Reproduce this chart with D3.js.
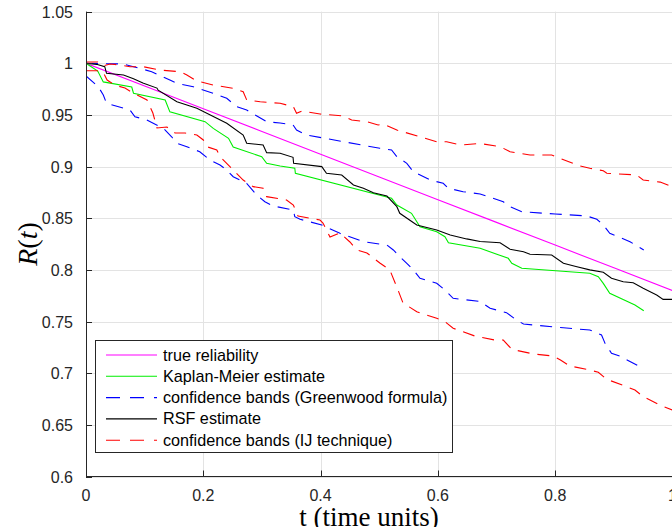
<!DOCTYPE html>
<html>
  <head>
    <meta charset="UTF-8" />
    <title>R(t) estimates</title>
    <script src="https://d3js.org/d3.v7.min.js"></script>
    <style>
      body { margin: 0; background: #fff; }
      .tick-label { font-family: "Liberation Sans", Arial, sans-serif; font-size: 16px; fill: #262626; }
      .legend-text { font-family: "Liberation Sans", Arial, sans-serif; font-size: 16.2px; fill: #000; }
      .grid { stroke: #e3e3e3; stroke-width: 1px; }
      .curve { fill: none; stroke-width: 1.1px; }
    </style>
  </head>
  <body>
    <svg id="chart" width="672" height="527"></svg>

    <script>
      // true reliability
      var trueT = [0, 0.1, 0.2, 0.3, 0.4, 0.5, 0.6, 0.7, 0.8, 0.9, 1.0];
      var trueR = [1.0, 0.978, 0.956, 0.934, 0.912, 0.89, 0.868, 0.846, 0.824, 0.802, 0.78];

      // Kaplan-Meier estimate
      var kmT = [0, 0.02, 0.0295, 0.078, 0.081, 0.135, 0.143, 0.203, 0.217, 0.243, 0.251, 0.2996, 0.308, 0.331, 0.356, 0.357,
        0.521, 0.53, 0.555, 0.5695, 0.598, 0.612, 0.618, 0.672, 0.72, 0.726, 0.743, 0.859, 0.8735, 0.882, 0.893, 0.936, 0.951];
      var kmR = [1.0, 0.9925, 0.982, 0.977, 0.971, 0.9645, 0.953, 0.9435, 0.937, 0.9274, 0.919, 0.9096, 0.9032, 0.9006, 0.8984, 0.8935,
        0.8693, 0.8628, 0.8548, 0.8418, 0.837, 0.8321, 0.8263, 0.8209, 0.8112, 0.8064, 0.8016, 0.7967, 0.7934, 0.787, 0.7773, 0.766, 0.7605];

      // Greenwood confidence bands
      var gwUpT = [0, 0.064, 0.081, 0.112, 0.143, 0.155, 0.183, 0.217, 0.24, 0.257, 0.274, 0.308, 0.331, 0.353, 0.359, 0.376,
        0.439, 0.501, 0.521, 0.53, 0.547, 0.558, 0.587, 0.609, 0.618, 0.643, 0.672, 0.7115, 0.723, 0.743, 0.8, 0.854, 0.871,
        0.882, 0.893, 0.9275, 0.951];
      var gwUpR = [1.0, 0.9993, 0.9967, 0.9919, 0.9838, 0.9806, 0.9773, 0.971, 0.9661, 0.958, 0.9548, 0.9435, 0.9422, 0.9403, 0.9354, 0.9306,
        0.9241, 0.9177, 0.9161, 0.9096, 0.9032, 0.8951, 0.887, 0.8838, 0.879, 0.8757, 0.8735, 0.866, 0.8612, 0.8563, 0.8541, 0.8522, 0.849,
        0.8435, 0.8354, 0.8273, 0.8193];
      var gwLoT = [0, 0.021, 0.0295, 0.035, 0.075, 0.0835, 0.1035, 0.132, 0.146, 0.155, 0.172, 0.194, 0.211, 0.2285, 0.24, 0.251,
        0.274, 0.291, 0.305, 0.319, 0.3535, 0.356, 0.365, 0.402, 0.433, 0.473, 0.513, 0.524, 0.535, 0.547, 0.558, 0.5695, 0.598,
        0.612, 0.626, 0.672, 0.689, 0.717, 0.734, 0.746, 0.814, 0.859, 0.879, 0.885, 0.896, 0.9105, 0.925, 0.942];
      var gwLoR = [0.9877, 0.9773, 0.9693, 0.9613, 0.9548, 0.9483, 0.9451, 0.9371, 0.9289, 0.9226, 0.9193, 0.9144, 0.9064, 0.9016, 0.8967, 0.8902,
        0.8838, 0.8725, 0.866, 0.8619, 0.858, 0.8515, 0.849, 0.8435, 0.8354, 0.8273, 0.8241, 0.8193, 0.8128, 0.8064, 0.8, 0.7919, 0.787,
        0.7805, 0.7725, 0.7694, 0.7628, 0.7586, 0.7515, 0.7476, 0.744, 0.7418, 0.737, 0.7289, 0.7193, 0.7166, 0.7121, 0.707];

      // RSF estimate
      var rsfT = [0, 0.018, 0.032, 0.035, 0.064, 0.081, 0.097, 0.121, 0.123, 0.155, 0.189, 0.223, 0.24, 0.268, 0.274, 0.302, 0.308,
        0.331, 0.353, 0.354, 0.402, 0.41, 0.436, 0.456, 0.473, 0.49, 0.513, 0.53, 0.535, 0.564, 0.598, 0.621, 0.649, 0.672, 0.706,
        0.723, 0.746, 0.757, 0.794, 0.814, 0.837, 0.859, 0.882, 0.896, 0.916, 0.933, 0.95, 0.973, 0.984, 1.0];
      var rsfR = [1.0, 0.999, 0.9967, 0.9903, 0.9887, 0.985, 0.981, 0.976, 0.974, 0.9628, 0.9564, 0.9468, 0.9419, 0.9306, 0.9226, 0.9209, 0.9135,
        0.9129, 0.909, 0.9032, 0.9, 0.8935, 0.8919, 0.8822, 0.879, 0.8747, 0.8715, 0.8612, 0.8548, 0.8435, 0.8386, 0.8338, 0.83, 0.8275, 0.8263,
        0.82, 0.8176, 0.8151, 0.8144, 0.8064, 0.8031, 0.8, 0.7977, 0.7919, 0.7886, 0.7876, 0.7822, 0.7757, 0.7715, 0.7715];

      // IJ technique confidence bands
      var ijUpT = [0, 0.02, 0.029, 0.041, 0.058, 0.075, 0.098, 0.126, 0.16, 0.172, 0.186, 0.194, 0.217, 0.251, 0.268, 0.274, 0.297,
        0.331, 0.3535, 0.359, 0.368, 0.399, 0.439, 0.453, 0.4786, 0.498, 0.507, 0.53, 0.5695, 0.598, 0.615, 0.638, 0.672, 0.706,
        0.723, 0.757, 0.794, 0.808, 0.842, 0.859, 0.882, 0.888, 0.939, 0.95, 0.979, 1.0];
      var ijUpR = [1.0013, 1.0013, 0.9974, 0.9993, 0.9984, 0.9967, 0.9967, 0.9935, 0.9919, 0.9887, 0.9838, 0.9822, 0.979, 0.9758, 0.9725, 0.9645, 0.9628,
        0.9613, 0.958, 0.9516, 0.9538, 0.9509, 0.949, 0.9451, 0.9435, 0.9403, 0.9412, 0.9354, 0.9289, 0.9241, 0.9241, 0.9209, 0.9224, 0.9193,
        0.9144, 0.9112, 0.9112, 0.908, 0.9006, 0.8984, 0.896, 0.8935, 0.8919, 0.887, 0.885, 0.8803];
      var ijLoT = [0, 0.019, 0.029, 0.036, 0.049, 0.0665, 0.08, 0.104, 0.114, 0.121, 0.138, 0.152, 0.169, 0.189, 0.2, 0.206, 0.223,
        0.2285, 0.251, 0.268, 0.285, 0.302, 0.308, 0.342, 0.3535, 0.3615, 0.399, 0.404, 0.416, 0.433, 0.45, 0.462, 0.479, 0.501,
        0.518, 0.53, 0.5405, 0.564, 0.598, 0.612, 0.626, 0.663, 0.697, 0.7115, 0.726, 0.763, 0.797, 0.809, 0.825, 0.859, 0.8735,
        0.888, 0.922, 0.936, 0.95, 0.9816, 1.0];
      var ijLoR = [0.9928, 0.9928, 0.9916, 0.9838, 0.979, 0.976, 0.9713, 0.9645, 0.9519, 0.9374, 0.9383, 0.9325, 0.9325, 0.9306, 0.9258, 0.9193, 0.9161,
        0.9096, 0.8967, 0.887, 0.8806, 0.879, 0.8709, 0.8677, 0.8628, 0.8522, 0.8483, 0.8454, 0.8318, 0.8357, 0.827, 0.8193, 0.8164, 0.8067,
        0.8, 0.7834, 0.768, 0.7595, 0.7531, 0.7499, 0.7435, 0.736, 0.7321, 0.7321, 0.7231, 0.7186, 0.7166, 0.7128, 0.707, 0.7031, 0.7009,
        0.6941, 0.6869, 0.6837, 0.6773, 0.6683, 0.6644];

      var xTicks = [0, 0.2, 0.4, 0.6, 0.8, 1];
      var yTicks = [0.6, 0.65, 0.7, 0.75, 0.8, 0.85, 0.9, 0.95, 1, 1.05];
      var legendLabels = [
        'true reliability',
        'Kaplan-Meier estimate',
        'confidence bands (Greenwood formula)',
        'RSF estimate',
        'confidence bands (IJ technique)'
      ];

      (function () {
        var svg = d3.select('#chart');
        // plot box in pixels (window.top is reserved, so no bare "top")
        var pl = 86, pr = 672.5, pt = 11.65, pb = 476.5;

        var x = d3.scaleLinear().domain([0, 1]).range([pl, pr]);
        var y = d3.scaleLinear().domain([0.6, 1.05]).range([pb, pt]);

        // grid
        svg.append('g').selectAll('line').data(yTicks).enter().append('line')
          .attr('class', 'grid')
          .attr('x1', pl).attr('x2', pr)
          .attr('y1', function (d) { return Math.round(y(d)) + 0.5; })
          .attr('y2', function (d) { return Math.round(y(d)) + 0.5; });
        svg.append('g').selectAll('line').data(xTicks).enter().append('line')
          .attr('class', 'grid')
          .attr('y1', pt).attr('y2', pb)
          .attr('x1', function (d) { return Math.round(x(d)) + 0.5; })
          .attr('x2', function (d) { return Math.round(x(d)) + 0.5; });

        // curves
        svg.append('clipPath').attr('id', 'clip').append('rect')
          .attr('x', pl).attr('y', pt).attr('width', pr - pl).attr('height', pb - pt);

        var line = d3.line()
          .x(function (d) { return x(d[0]); })
          .y(function (d) { return y(d[1]); });

        function pairs(ts, vs) {
          return ts.map(function (t, i) { return [t, vs[i]]; });
        }

        var series = [
          { data: pairs(trueT, trueR), color: '#ff00ff', dash: null },
          { data: pairs(kmT, kmR), color: '#00ee00', dash: null },
          { data: pairs(gwUpT, gwUpR), color: '#0000ff', dash: '12,8' },
          { data: pairs(gwLoT, gwLoR), color: '#0000ff', dash: '12,8' },
          { data: pairs(rsfT, rsfR), color: '#000000', dash: null },
          { data: pairs(ijUpT, ijUpR), color: '#ff0000', dash: '12,8' },
          { data: pairs(ijLoT, ijLoR), color: '#ff0000', dash: '12,8' }
        ];

        var plot = svg.append('g').attr('clip-path', 'url(#clip)');
        series.forEach(function (s) {
          plot.append('path')
            .datum(s.data)
            .attr('class', 'curve')
            .attr('d', line)
            .attr('stroke', s.color)
            .attr('stroke-dasharray', s.dash);
        });

        // axes lines and inside ticks
        var axisColor = '#262626';
        svg.append('line').attr('x1', pl + 0.5).attr('x2', pl + 0.5).attr('y1', pt).attr('y2', pb + 0.5)
          .attr('stroke', axisColor);
        svg.append('line').attr('x1', pl).attr('x2', pr).attr('y1', Math.round(pb) - 0.5).attr('y2', Math.round(pb) - 0.5)
          .attr('stroke', axisColor);

        svg.append('g').selectAll('line').data(yTicks).enter().append('line')
          .attr('x1', pl).attr('x2', pl + 6)
          .attr('y1', function (d) { return Math.round(y(d)) + 0.5; })
          .attr('y2', function (d) { return Math.round(y(d)) + 0.5; })
          .attr('stroke', axisColor);
        svg.append('g').selectAll('line').data(xTicks).enter().append('line')
          .attr('y1', pb).attr('y2', pb - 6)
          .attr('x1', function (d) { return Math.round(x(d)) + 0.5; })
          .attr('x2', function (d) { return Math.round(x(d)) + 0.5; })
          .attr('stroke', axisColor);

        // tick labels
        svg.append('g').selectAll('text').data(yTicks).enter().append('text')
          .attr('class', 'tick-label')
          .attr('x', 73)
          .attr('y', function (d) { return y(d) + 6; })
          .attr('text-anchor', 'end')
          .text(function (d) { return String(d); });
        svg.append('g').selectAll('text').data(xTicks).enter().append('text')
          .attr('class', 'tick-label')
          .attr('x', function (d) { return x(d); })
          .attr('y', 501)
          .attr('text-anchor', 'middle')
          .text(function (d) { return String(d); });

        // axis titles
        svg.append('text')
          .attr('x', 369).attr('y', 526)
          .attr('text-anchor', 'middle')
          .style('font-family', '"Liberation Serif", "Times New Roman", serif')
          .style('font-size', '27px')
          .text('t (time units)');

        var yLab = svg.append('text')
          .attr('transform', 'translate(37,244) rotate(-90)')
          .attr('text-anchor', 'middle')
          .style('font-family', '"Liberation Serif", "Times New Roman", serif')
          .style('font-size', '28px');
        yLab.append('tspan').style('font-style', 'italic').text('R');
        yLab.append('tspan').text('(');
        yLab.append('tspan').style('font-style', 'italic').text('t');
        yLab.append('tspan').text(')');

        // legend
        var legend = svg.append('g');
        legend.append('rect')
          .attr('x', 95.5).attr('y', 340.5).attr('width', 357).attr('height', 112)
          .attr('fill', '#fff').attr('stroke', axisColor);
        var legendItems = [series[0], series[1], series[2], series[4], series[5]];
        legendItems.forEach(function (s, i) {
          var ly = 355 + i * 21.3;
          legend.append('line')
            .attr('x1', 106).attr('x2', 157).attr('y1', ly).attr('y2', ly)
            .attr('stroke', s.color).attr('stroke-width', 1.1)
            .attr('stroke-dasharray', s.dash ? '14,10' : null);
          legend.append('text')
            .attr('class', 'legend-text')
            .attr('x', 163).attr('y', ly + 5.5)
            .text(legendLabels[i]);
        });
      })();
    </script>
  </body>
</html>
